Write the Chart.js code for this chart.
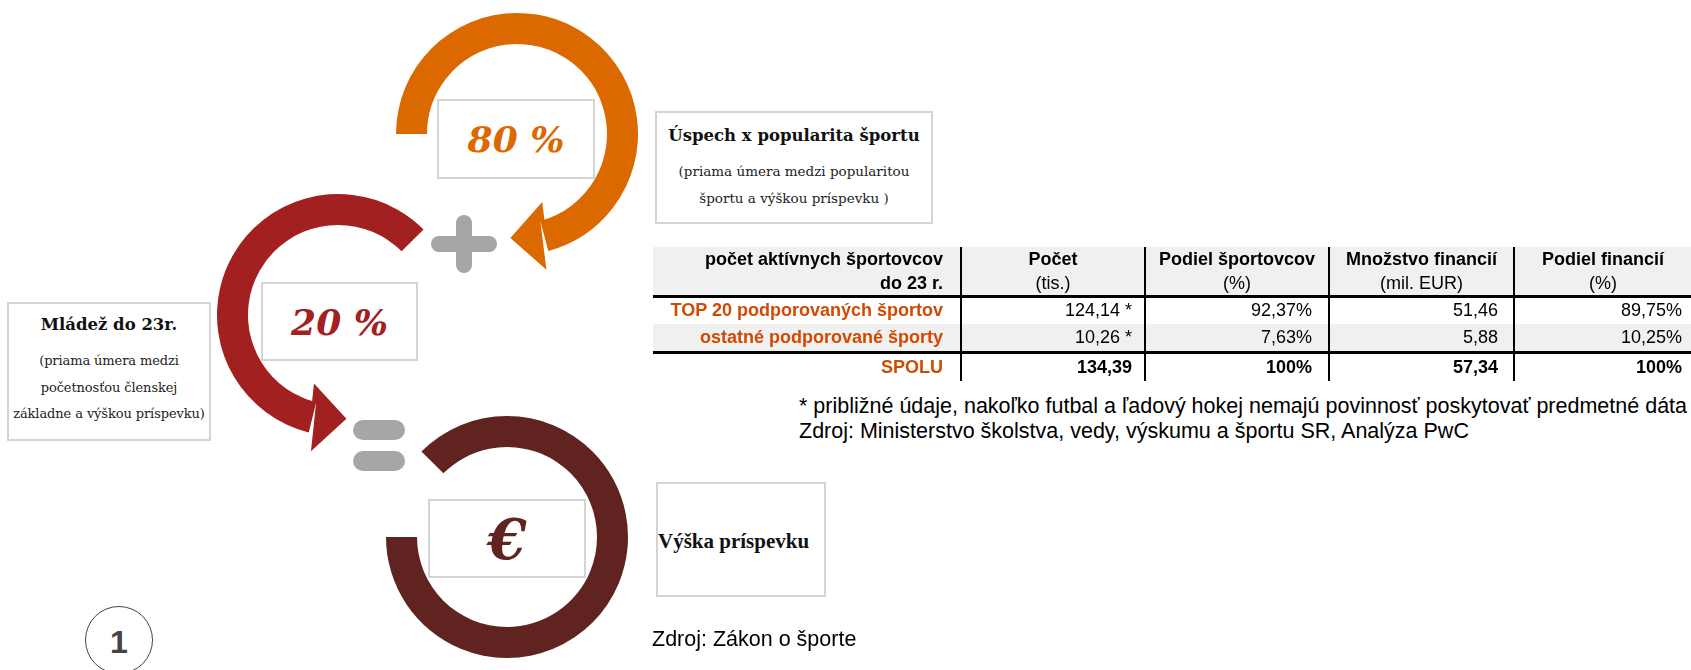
<!DOCTYPE html>
<html>
  <head>
    <meta charset="utf-8" />
    <title>Príspevok na šport</title>
    <style>
      html, body { margin: 0; padding: 0; background: #fff; }
      body { position: relative; width: 1691px; height: 670px; overflow: hidden; }
      .ring { position: absolute; width: 322px; height: 322px; }
      .box { position: absolute; box-sizing: border-box; border: 2px solid #d4d4d4; background: #fff; }
      .big { display: flex; align-items: center; justify-content: center; font-family: "DejaVu Serif", serif; font-weight: bold; font-style: italic; }
      .serif { font-family: "DejaVu Serif", serif; text-align: center; color: #222; white-space: nowrap; }
      .serif .t { font-weight: bold; font-size: 16.5px; line-height: 26px; color: #111; }
      .serif .s { font-size: 13.5px; line-height: 26.5px; }
      .bar { position: absolute; background: #a6a6a6; }
      #tab { position: absolute; left: 653px; top: 247px; width: 1038px; border-collapse: collapse; table-layout: fixed;
             font-family: "Liberation Sans", Arial, sans-serif; font-size: 18px; color: #000; }
      #tab td { padding: 0; white-space: nowrap; }
      #tab td + td { border-left: 2px solid #000; }
      #tab .head td { background: #f0f0f0; line-height: 24px; height: 47px; text-align: center; }
      #tab .head td:first-child { text-align: right; padding-right: 17px; font-weight: bold; }
      #tab .head td b { font-weight: bold; }
      #tab tr.rule td { border-bottom: 3px solid #000; }
      #tab .lab { text-align: right; padding-right: 17px; font-weight: bold; color: #d04a02; }
      #tab .num { text-align: right; }
      #tab tr.grey td { background: #f0f0f0; }
      #tab tr.total td.num { font-weight: bold; }
      .note { position: absolute; font-family: "Liberation Sans", Arial, sans-serif; font-size: 21.5px; line-height: 25px; color: #000; white-space: nowrap; }
    </style>
  </head>
  <body>
    <div class="ring" style="left:356px;top:-27px"><canvas id="ringTop"></canvas></div>
    <div class="ring" style="left:177px;top:154px"><canvas id="ringMid"></canvas></div>
    <div class="ring" style="left:346px;top:376px"><canvas id="ringBottom"></canvas></div>

    <!-- plus and equals -->
    <div class="bar" style="left:431px;top:236px;width:66px;height:16px;border-radius:8px"></div>
    <div class="bar" style="left:456px;top:215px;width:16px;height:58px;border-radius:8px"></div>
    <div class="bar" style="left:353px;top:420px;width:52px;height:20px;border-radius:10px"></div>
    <div class="bar" style="left:353px;top:451px;width:52px;height:20px;border-radius:10px"></div>

    <div class="box big" id="share0" style="left:437px;top:99px;width:158px;height:80px;font-size:36px;color:#dc6900"></div>
    <div class="box big" id="share1" style="left:261px;top:282px;width:157px;height:79px;font-size:36px;color:#a32020"></div>
    <div class="box big" id="share2" style="left:428px;top:499px;width:158px;height:79px;font-size:56px;color:#602320"></div>

    <div class="box serif" style="left:655px;top:111px;width:278px;height:113px;padding-top:10px">
      <div class="t">Úspech x popularita športu</div>
      <div class="s" style="margin-top:9px">(priama úmera medzi popularitou<br>športu a výškou príspevku )</div>
    </div>
    <div class="box serif" style="left:7px;top:302px;width:204px;height:139px;padding-top:8px">
      <div class="t">Mládež do 23r.</div>
      <div class="s" style="margin-top:10px;font-size:13px;letter-spacing:-0.1px">(priama úmera medzi<br>početnosťou členskej<br>základne a výškou príspevku)</div>
    </div>
    <div class="box" style="left:656px;top:482px;width:170px;height:115px">
      <div style="position:absolute;left:0;top:44px;font-family:'Liberation Serif',serif;font-weight:bold;font-size:21px;line-height:26px;color:#111;white-space:nowrap">Výška príspevku</div>
    </div>

    <table id="tab">
      <colgroup>
        <col style="width:308px" /><col style="width:184px" /><col style="width:184px" /><col style="width:185px" /><col style="width:177px" />
      </colgroup>
      <tbody id="tabBody"></tbody>
    </table>

    <div class="note" style="left:799px;top:394px">* približné údaje, nakoľko futbal a ľadový hokej nemajú povinnosť poskytovať predmetné dáta<br>Zdroj: Ministerstvo školstva, vedy, výskumu a športu SR, Analýza PwC</div>
    <div class="note" style="left:652px;top:627px">Zdroj: Zákon o športe</div>

    <div style="position:absolute;left:85px;top:606px;width:68px;height:68px;box-sizing:border-box;border:1.3px solid #444;border-radius:50%;
                font-family:'Liberation Sans',Arial,sans-serif;font-weight:bold;font-size:32px;color:#444;text-align:center;line-height:70px">1</div>

    <script src="https://cdn.jsdelivr.net/npm/chart.js@4.4.1/dist/chart.umd.min.js"></script>
    <script>
      // rings: drawn arc and gap, in degrees
      const ringNames = ["Úspech x popularita športu", "Mládež do 23r.", "Výška príspevku"];
      const ringArcs = [[255, 105], [211, 149], [315, 45]];
      const ringColors = ["#dc6900", "#a32020", "#602320"];
      const ringShares = ["80 %", "20 %", "€"];

      // table
      const headTop = ["počet aktívnych športovcov", "Počet", "Podiel športovcov", "Množstvo financií", "Podiel financií"];
      const headSub = ["do 23 r.", "(tis.)", "(%)", "(mil. EUR)", "(%)"];
      const rowLabels = ["TOP 20 podporovaných športov", "ostatné podporované športy", "SPOLU"];
      const pocet = [124.14, 10.26, 134.39];
      const pocetOdhad = [true, true, false];
      const podielSportovcov = [92.37, 7.63, 100];
      const financie = [51.46, 5.88, 57.34];
      const podielFinancii = [89.75, 10.25, 100];

      // arrow head on one end of the first slice
      const arrowHeads = {
        id: "arrowHeads",
        afterDatasetsDraw(chart, args, opts) {
          if (!opts.at) return;
          const arc = chart.getDatasetMeta(0).data[0];
          const p = arc.getProps(["x", "y", "startAngle", "endAngle", "innerRadius", "outerRadius"], true);
          const a = opts.at === "end" ? p.endAngle : p.startAngle;
          const dir = opts.at === "end" ? 1 : -1;
          const back = a - dir * 0.06; // overlap into the ring, no seam
          const rMid = (p.innerRadius + p.outerRadius) / 2;
          const mx = p.x + Math.cos(a) * rMid, my = p.y + Math.sin(a) * rMid;
          // arrow axis: tangent, tilted a little outwards
          const u = a + dir * (Math.PI / 2 + 0.2);
          const half = 34, len = 34;
          const px = -Math.sin(u), py = Math.cos(u);
          const ctx = chart.ctx;
          ctx.save();
          ctx.beginPath();
          ctx.moveTo(p.x + Math.cos(back) * (p.innerRadius + 0.5), p.y + Math.sin(back) * (p.innerRadius + 0.5));
          ctx.lineTo(p.x + Math.cos(a) * (p.innerRadius + 0.5), p.y + Math.sin(a) * (p.innerRadius + 0.5));
          ctx.lineTo(mx - px * half * dir, my - py * half * dir);
          ctx.lineTo(mx + Math.cos(u) * len, my + Math.sin(u) * len);
          ctx.lineTo(mx + px * half * dir, my + py * half * dir);
          ctx.lineTo(p.x + Math.cos(a) * (p.outerRadius - 0.5), p.y + Math.sin(a) * (p.outerRadius - 0.5));
          ctx.lineTo(p.x + Math.cos(back) * (p.outerRadius - 0.5), p.y + Math.sin(back) * (p.outerRadius - 0.5));
          ctx.closePath();
          ctx.fillStyle = opts.color;
          ctx.fill();
          ctx.restore();
        }
      };

      function makeRing(id, i, rotation, arrowAt) {
        return new Chart(document.getElementById(id), {
          type: "doughnut",
          data: {
            labels: [ringNames[i], ""],
            datasets: [{
              data: ringArcs[i],
              backgroundColor: [ringColors[i], "rgba(0,0,0,0)"],
              borderWidth: 0
            }]
          },
          options: {
            responsive: true,
            maintainAspectRatio: false,
            animation: false,
            events: [],
            rotation: rotation,
            cutout: 90,
            layout: { padding: 40 },
            plugins: {
              legend: { display: false },
              tooltip: { enabled: false },
              arrowHeads: { at: arrowAt, color: ringColors[i] }
            }
          },
          plugins: [arrowHeads]
        });
      }

      makeRing("ringTop", 0, 270, "end");
      makeRing("ringMid", 1, 194, "start");
      makeRing("ringBottom", 2, 315, null);

      ringShares.forEach((s, i) => { document.getElementById("share" + i).textContent = s; });

      const dec = v => v.toFixed(2).replace(".", ",");
      const pct = v => (v === 100 ? "100" : dec(v)) + "%";

      const body = document.getElementById("tabBody");
      let html = '<tr class="head rule">';
      headTop.forEach((h, j) => {
        html += j === 0 ? "<td>" + h + "<br>" + headSub[j] + "</td>"
                        : "<td><b>" + h + "</b><br>" + headSub[j] + "</td>";
      });
      html += "</tr>";
      const pads = [12, 16, 15, 9];
      rowLabels.forEach((lab, r) => {
        const cls = r === 1 ? "grey rule" : (r === 2 ? "total" : "");
        const h = [27, 29, 28][r];
        const cells = [
          dec(pocet[r]) + (pocetOdhad[r] ? " *" : ""),
          pct(podielSportovcov[r]),
          dec(financie[r]),
          pct(podielFinancii[r])
        ];
        html += '<tr class="' + cls + '" style="height:' + h + 'px"><td class="lab">' + lab + "</td>";
        cells.forEach((c, j) => { html += '<td class="num" style="padding-right:' + pads[j] + 'px">' + c + "</td>"; });
        html += "</tr>";
      });
      body.innerHTML = html;
    </script>
  </body>
</html>
